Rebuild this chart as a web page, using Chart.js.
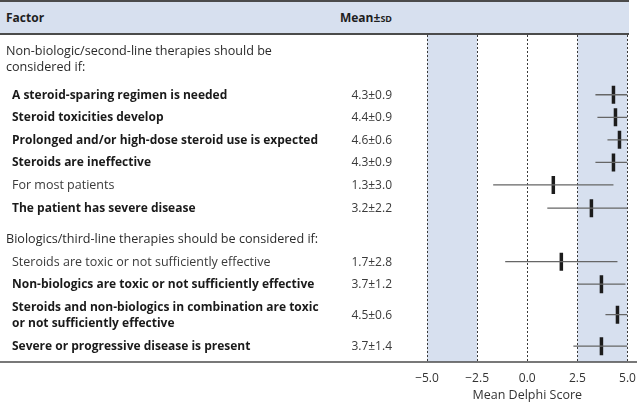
<!DOCTYPE html>
<html>
<head>
<meta charset="utf-8">
<script src="https://cdn.jsdelivr.net/npm/chart.js@4/dist/chart.umd.min.js"></script>
<style>
    body { margin: 0; background: #fff; font-family: "Open Sans", Roboto, "DejaVu Sans", sans-serif; color: #1e1e1e; }
    #wrap { position: relative; width: 640px; height: 403px; overflow: hidden; }
    #head {
        position: absolute; left: 0; top: 0; width: 629px; height: 31px;
        background: #d7e0ef; border-top: 2px solid #4b4b4b; border-bottom: 2px solid #4b4b4b;
    }
    #head span { position: absolute; top: 7px; font-weight: bold; font-size: 12px; }
    #head small { font-size: 9px; }
    .lbl { position: absolute; font-size: 12px; line-height: 16px; white-space: pre; transform: translateY(-50%); }
    .grp { left: 6px; color: #2a2a2a; font-size: 12.6px; }
    .fac { left: 12px; color: #3a3a3a; font-size: 12.5px; }
    .fac.b { font-weight: bold; color: #1a1a1a; font-size: 12px; }
    .val { right: 248px; color: #3a3a3a; text-align: right; }
    canvas { position: absolute; left: 0; top: 0; }
</style>
</head>
<body>
<div id="wrap">
    <canvas id="forest" width="640" height="403"></canvas>
    <div id="head">
        <span style="left:6px">Factor</span>
        <span style="right:237px">Mean±<small>SD</small></span>
    </div>
</div>

<script>
// ===== dados =====
const groups = [
    'Non-biologic/second-line therapies should be\nconsidered if:',
    'Biologics/third-line therapies should be considered if:'
];
const factors = [
    'A steroid-sparing regimen is needed',
    'Steroid toxicities develop',
    'Prolonged and/or high-dose steroid use is expected',
    'Steroids are ineffective',
    'For most patients',
    'The patient has severe disease',
    'Steroids are toxic or not sufficiently effective',
    'Non-biologics are toxic or not sufficiently effective',
    'Steroids and non-biologics in combination are toxic\nor not sufficiently effective',
    'Severe or progressive disease is present'
];
const means = [4.3, 4.4, 4.6, 4.3, 1.3, 3.2, 1.7, 3.7, 4.5, 3.7];
const sds = [0.9, 0.9, 0.6, 0.9, 3.0, 2.2, 2.8, 1.2, 0.6, 1.4];
// negrito = consenso
const consensus = [true, true, true, true, false, true, false, true, true, true];
const xTicks = [-5, -2.5, 0, 2.5, 5];
const bands = [[-5, -2.5], [2.5, 5]];

// posição das linhas da tabela (em unidades do eixo y)
const groupRows = [1.05, 9.05];
const factorRows = [2.65, 3.65, 4.65, 5.65, 6.65, 7.68, 10.05, 11.05, 12.4, 13.8];

// barras de erro (média ± DP, cortadas em -5..5)
const errData = [];
means.forEach((m, i) => {
    errData.push({ x: Math.max(-5, m - sds[i]), y: factorRows[i] });
    errData.push({ x: Math.min(5, m + sds[i]), y: factorRows[i] });
    errData.push({ x: null, y: null });
});
const meanData = means.map((m, i) => ({ x: m, y: factorRows[i] }));

const fmt = v => v.toFixed(1).replace('-', '\u2212');
const axisFont = { family: 'Open Sans', size: 12 };

// fundo azul das faixas + linha do eixo em toda a largura
const bandsPlugin = {
    id: 'bands',
    beforeDraw(chart) {
        const { ctx, chartArea, scales } = chart;
        ctx.save();
        ctx.fillStyle = '#d7e0ef';
        bands.forEach(b => {
            const x1 = scales.x.getPixelForValue(b[0]);
            const x2 = scales.x.getPixelForValue(b[1]);
            ctx.fillRect(x1, chartArea.top, x2 - x1, chartArea.bottom - chartArea.top);
        });
        ctx.restore();
    },
    afterDraw(chart) {
        const { ctx, chartArea } = chart;
        ctx.save();
        ctx.strokeStyle = '#4b4b4b';
        ctx.lineWidth = 1.5;
        ctx.beginPath();
        ctx.moveTo(0, chartArea.bottom);
        ctx.lineTo(637, chartArea.bottom);
        ctx.stroke();
        ctx.restore();
    }
};

const chart = new Chart(document.getElementById('forest'), {
    type: 'scatter',
    data: {
        datasets: [
            {
                type: 'line',
                data: errData,
                borderColor: '#666',
                borderWidth: 1.3,
                pointRadius: 0,
                spanGaps: false
            },
            {
                data: meanData,
                pointStyle: 'line',
                rotation: 90,
                radius: 9,
                borderWidth: 3.5,
                borderColor: '#1c1c1c',
                backgroundColor: '#1c1c1c'
            }
        ]
    },
    options: {
        responsive: false,
        animation: false,
        events: [],
        layout: { padding: { left: 427, right: 12, top: 35, bottom: 0 } },
        plugins: { legend: { display: false }, tooltip: { enabled: false } },
        scales: {
            x: {
                type: 'linear',
                min: -5,
                max: 5,
                afterBuildTicks: s => { s.ticks = xTicks.map(v => ({ value: v })); },
                afterFit: s => { s.height = 41; s.paddingLeft = 0; s.paddingRight = 0; },
                grid: { color: '#3a3a3a', lineWidth: 1, drawTicks: false },
                border: { display: false, dash: [2, 2] },
                ticks: {
                    callback: v => fmt(v),
                    color: '#333',
                    padding: 9,
                    maxRotation: 0,
                    font: axisFont
                },
                title: {
                    display: true,
                    text: 'Mean Delphi Score',
                    color: '#333',
                    padding: { top: 2, bottom: 0 },
                    font: { family: 'Open Sans', size: 12.5 }
                }
            },
            y: { type: 'linear', min: 0, max: 14.5, reverse: true, display: false }
        }
    },
    plugins: [bandsPlugin]
});

// textos da tabela posicionados pela escala y
const wrap = document.getElementById('wrap');
function addLabel(text, cls, yVal) {
    const d = document.createElement('div');
    d.className = 'lbl ' + cls;
    d.textContent = text;
    d.style.top = chart.scales.y.getPixelForValue(yVal) + 'px';
    wrap.appendChild(d);
}
groups.forEach((g, i) => addLabel(g, 'grp', groupRows[i]));
factors.forEach((f, i) => {
    addLabel(f, 'fac' + (consensus[i] ? ' b' : ''), factorRows[i]);
    addLabel(means[i].toFixed(1) + '±' + sds[i].toFixed(1), 'val', factorRows[i]);
});
</script>
</body>
</html>
